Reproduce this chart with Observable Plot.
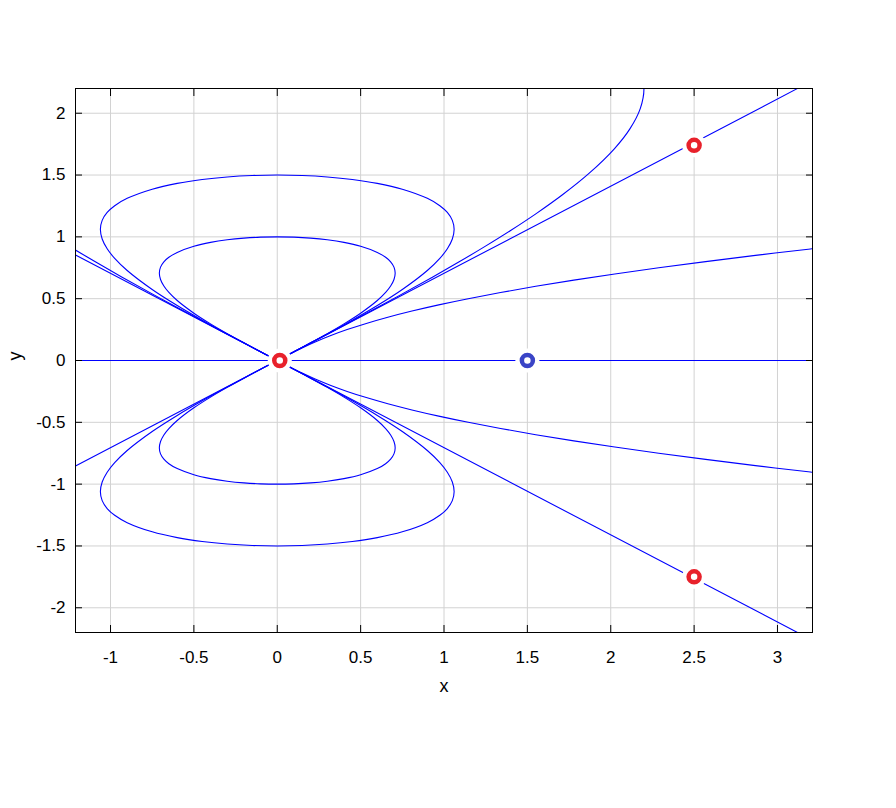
<!DOCTYPE html>
<html><head><meta charset="utf-8">
<script src="https://cdn.jsdelivr.net/npm/d3@7"></script>
<script src="https://cdn.jsdelivr.net/npm/@observablehq/plot@0.6"></script>
<style>body{margin:0;background:#fff}</style>
</head><body><div id="chart"></div>
<script>
// ---- axes ----
const xDomain = [-1.21, 3.21];
const yDomain = [-2.2, 2.2];
const xTicks = [-1, -0.5, 0, 0.5, 1, 1.5, 2, 2.5, 3];
const xTickLabels = ["-1", "-0.5", "0", "0.5", "1", "1.5", "2", "2.5", "3"];
const yTicks = [-2, -1.5, -1, -0.5, 0, 0.5, 1, 1.5, 2];
const yTickLabels = ["-2", "-1.5", "-1", "-0.5", "0", "0.5", "1", "1.5", "2"];
const xLabel = "x";
const yLabel = "y";

// ---- curves ----
const innerUpX = [0, -0.05, -0.1, -0.2, -0.3, -0.4, -0.5, -0.6, -0.65, -0.68, -0.7, -0.7071, -0.7, -0.68, -0.65, -0.6, -0.5, -0.4, -0.3, -0.2, -0.1, 0, 0.1, 0.2, 0.3, 0.4, 0.5, 0.6, 0.65, 0.68, 0.7, 0.7071, 0.7, 0.68, 0.65, 0.6, 0.5, 0.4, 0.3, 0.2, 0.1, 0.05, 0];
const innerUpY = [0, 0.0354, 0.0709, 0.1429, 0.2173, 0.2961, 0.3827, 0.4852, 0.5506, 0.6024, 0.6552, 0.7071, 0.7555, 0.7982, 0.8348, 0.8744, 0.9239, 0.9552, 0.9761, 0.9897, 0.9975, 1, 0.9975, 0.9897, 0.9761, 0.9552, 0.9239, 0.8744, 0.8348, 0.7982, 0.7555, 0.7071, 0.6552, 0.6024, 0.5506, 0.4852, 0.3827, 0.2961, 0.2173, 0.1429, 0.0709, 0.0354, 0];
const innerDownX = innerUpX.slice();
const innerDownY = [0, -0.0354, -0.0709, -0.1429, -0.2173, -0.2961, -0.3827, -0.4852, -0.5506, -0.6024, -0.6552, -0.7071, -0.7555, -0.7982, -0.8348, -0.8744, -0.9239, -0.9552, -0.9761, -0.9897, -0.9975, -1, -0.9975, -0.9897, -0.9761, -0.9552, -0.9239, -0.8744, -0.8348, -0.7982, -0.7555, -0.7071, -0.6552, -0.6024, -0.5506, -0.4852, -0.3827, -0.2961, -0.2173, -0.1429, -0.0709, -0.0354, 0];

const outerUpX = [0, -0.075, -0.15, -0.3, -0.45, -0.6, -0.75, -0.9, -0.975, -1.02, -1.05, -1.0607, -1.05, -1.02, -0.975, -0.9, -0.75, -0.6, -0.45, -0.3, -0.15, 0, 0.15, 0.3, 0.45, 0.6, 0.75, 0.9, 0.975, 1.02, 1.05, 1.0607, 1.05, 1.02, 0.975, 0.9, 0.75, 0.6, 0.45, 0.3, 0.15, 0.075, 0];
const outerUpY = [0, 0.0531, 0.1064, 0.2144, 0.3260, 0.4442, 0.5741, 0.7278, 0.8259, 0.9036, 0.9828, 1.0607, 1.1333, 1.1973, 1.2522, 1.3116, 1.3858, 1.4328, 1.4642, 1.4846, 1.4962, 1.5, 1.4962, 1.4846, 1.4642, 1.4328, 1.3858, 1.3116, 1.2522, 1.1973, 1.1333, 1.0607, 0.9828, 0.9036, 0.8259, 0.7278, 0.5741, 0.4442, 0.3260, 0.2144, 0.1064, 0.0531, 0];
const outerDownX = outerUpX.slice();
const outerDownY = [0, -0.0531, -0.1064, -0.2144, -0.3260, -0.4442, -0.5741, -0.7278, -0.8259, -0.9036, -0.9828, -1.0607, -1.1333, -1.1973, -1.2522, -1.3116, -1.3858, -1.4328, -1.4642, -1.4846, -1.4962, -1.5, -1.4962, -1.4846, -1.4642, -1.4328, -1.3858, -1.3116, -1.2522, -1.1973, -1.1333, -1.0607, -0.9828, -0.9036, -0.8259, -0.7278, -0.5741, -0.4442, -0.3260, -0.2144, -0.1064, -0.0531, 0];

// large upper loop: right branch (bends up at x≈2.2) and left branch
const bigRightX = [2.0215, 2.1148, 2.177, 2.1991, 2.177, 2.1148, 2.0215, 1.866, 1.7105, 1.555, 1.3995, 1.244, 1.0885, 0.933, 0.622, 0.311, 0.1555, 0];
const bigRightY = [2.5962, 2.4824, 2.3496, 2.1991, 2.0377, 1.8735, 1.7124, 1.509, 1.3404, 1.1902, 1.0515, 0.9209, 0.7962, 0.6759, 0.4444, 0.2205, 0.1101, 0];
const bigLeftX = [0, -0.1555, -0.311, -0.622, -0.933, -1.0885, -1.2129];
const bigLeftY = [0, 0.1101, 0.2205, 0.4444, 0.6759, 0.7962, 0.8956];

// curves in the right sector, flattening out
const fanUpX = [0, 0.0713, 0.1459, 0.2271, 0.3175, 0.4192, 0.534, 0.6632, 0.8078, 0.9683, 1.1453, 1.3392, 1.5502, 1.7786, 2.0244, 2.2878, 2.569, 2.8678, 3.1845, 3.2499];
const fanUpY = [0, 0.05, 0.1, 0.15, 0.2, 0.25, 0.3, 0.35, 0.4, 0.45, 0.5, 0.55, 0.6, 0.65, 0.7, 0.75, 0.8, 0.85, 0.9, 0.91];
const fanDownX = fanUpX.slice();
const fanDownY = [0, -0.05, -0.1, -0.15, -0.2, -0.25, -0.3, -0.35, -0.4, -0.45, -0.5, -0.55, -0.6, -0.65, -0.7, -0.75, -0.8, -0.85, -0.9, -0.91];

// straight lines through the origin
const riseX = [-1.21, 3.13];
const riseY = [-0.853, 2.207];
const fallX = [-1.21, 3.13];
const fallY = [0.853, -2.207];
const flatX = [-1.21, 3.21];
const flatY = [0, 0];

// markers
const redX = [0.015, 2.5, 2.5];
const redY = [0, 1.74, -1.75];
const blueX = [1.5];
const blueY = [0];

// ---- build ----
const pts = (xs, ys) => xs.map((x, i) => ({x, y: ys[i]}));
const curves = [
  [innerUpX, innerUpY], [innerDownX, innerDownY],
  [outerUpX, outerUpY], [outerDownX, outerDownY],
  [bigRightX, bigRightY], [bigLeftX, bigLeftY],
  [fanUpX, fanUpY], [fanDownX, fanDownY]
];
const straight = [[riseX, riseY], [fallX, fallY], [flatX, flatY]];
const red = pts(redX, redY);
const blue = pts(blueX, blueY);
const allMarkers = red.concat(blue);

const lineColor = "#0000ff";
const font = "'Liberation Sans', Arial, Helvetica, sans-serif";
const xFmt = d => xTickLabels[xTicks.indexOf(d)];
const yFmt = d => yTickLabels[yTicks.indexOf(d)];

const marks = [
  Plot.gridX(xTicks, {stroke: "#d2d2d2", strokeOpacity: 1, strokeWidth: 1}),
  Plot.gridY(yTicks, {stroke: "#d2d2d2", strokeOpacity: 1, strokeWidth: 1}),
  ...curves.map(([xs, ys]) => Plot.line(pts(xs, ys), {x: "x", y: "y", stroke: lineColor, strokeWidth: 1.1, curve: "catmull-rom", clip: true})),
  ...straight.map(([xs, ys]) => Plot.line(pts(xs, ys), {x: "x", y: "y", stroke: lineColor, strokeWidth: 1.1, clip: true})),
  Plot.dot(allMarkers, {x: "x", y: "y", r: 12, fill: "white", stroke: null}),
  Plot.dot(red, {x: "x", y: "y", r: 5.5, fill: "white", stroke: "#e8212b", strokeWidth: 4.5}),
  Plot.dot(blue, {x: "x", y: "y", r: 5.5, fill: "white", stroke: "#3a44c6", strokeWidth: 4.5}),
  Plot.frame({stroke: "black", strokeWidth: 1}),
  // inward tick marks on all four sides
  Plot.axisX(xTicks, {anchor: "bottom", tickSize: -7, tickFormat: () => "", stroke: "black", label: null}),
  Plot.axisX(xTicks, {anchor: "top", tickSize: -7, tickFormat: () => "", stroke: "black", label: null}),
  Plot.axisY(yTicks, {anchor: "left", tickSize: -7, tickFormat: () => "", stroke: "black", label: null}),
  Plot.axisY(yTicks, {anchor: "right", tickSize: -7, tickFormat: () => "", stroke: "black", label: null}),
  // tick labels
  Plot.axisX(xTicks, {anchor: "bottom", tickSize: 0, tickPadding: 18, tickFormat: xFmt, fontSize: 17, fill: "black", label: null}),
  Plot.axisY(yTicks, {anchor: "left", tickSize: 0, tickPadding: 10, tickFormat: yFmt, fontSize: 17, fill: "black", label: null}),
  // axis titles
  Plot.text([xLabel], {text: d => d, frameAnchor: "bottom", dy: 59, fontSize: 18, fill: "black"}),
  Plot.text([yLabel], {text: d => d, frameAnchor: "left", dx: -60, rotate: -90, fontSize: 18, fill: "black"})
];

const chart = Plot.plot({
  width: 896,
  height: 808,
  marginTop: 88,
  marginLeft: 75,
  marginRight: 84,
  marginBottom: 176,
  x: {domain: xDomain, axis: null},
  y: {domain: yDomain, axis: null},
  style: {fontFamily: font, fontSize: "17px", background: "white", color: "black", overflow: "visible"},
  marks
});
document.getElementById("chart").appendChild(chart);
</script>
</body></html>
